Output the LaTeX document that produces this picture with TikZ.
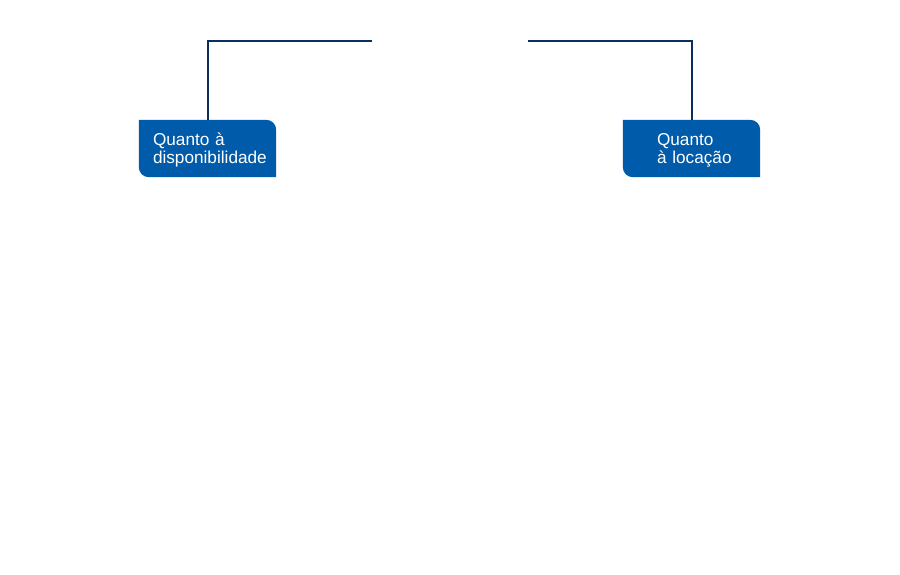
\documentclass[tikz,border=0pt]{standalone}
\usepackage{fontspec}
\setmainfont{Liberation Sans}
\usetikzlibrary{calc,backgrounds}
\definecolor{boxblue}{HTML}{005BAA}
\definecolor{linenavy}{HTML}{0B2F5B}
\begin{document}
\begin{tikzpicture}[x=1pt,y=-1pt,
  tagbox/.style={rectangle,minimum width=137pt,minimum height=57pt,inner ysep=0pt,
    text=white,align=left,font=\fontsize{17.2}{18}\selectfont,anchor=center},
  conn/.style={draw=linenavy,line width=2pt}]
\useasboundingbox (0,0) rectangle (900,574);
\coordinate (lend) at (372,41);
\coordinate (rend) at (528,41);
\node[tagbox,text width=109pt,inner xsep=14pt,yshift=-1.5pt] (dispo) at (207.5,148.5) {Quanto à\\disponibilidade};
\node[tagbox,text width=137pt,inner xsep=0pt,yshift=-1.5pt] (loc) at (691.5,148.5) {\hspace*{34pt}Quanto\\\hspace*{34pt}à locação};
\begin{pgfonlayer}{background}
\fill[white] (0,0) rectangle (900,574);
\foreach \n in {dispo,loc}{
  \fill[boxblue] ($(\n.north west)+(0,-1.5)$) -- ($(\n.north east)+(-10,-1.5)$)
    .. controls ($(\n.north east)+(-4.5,-1.5)$) and ($(\n.north east)+(0,3)$) .. ($(\n.north east)+(0,8.5)$)
    -- ($(\n.south east)+(0,-1.5)$) -- ($(\n.south west)+(10,-1.5)$)
    .. controls ($(\n.south west)+(4.5,-1.5)$) and ($(\n.south west)+(0,-6)$) .. ($(\n.south west)+(0,-11.5)$)
    -- cycle;
}
\end{pgfonlayer}
\draw[conn] (lend) -| ($(dispo.north)+(0,-1.5)$);
\draw[conn] (rend) -| ($(loc.north)+(0,-1.5)$);
\end{tikzpicture}
\end{document}
